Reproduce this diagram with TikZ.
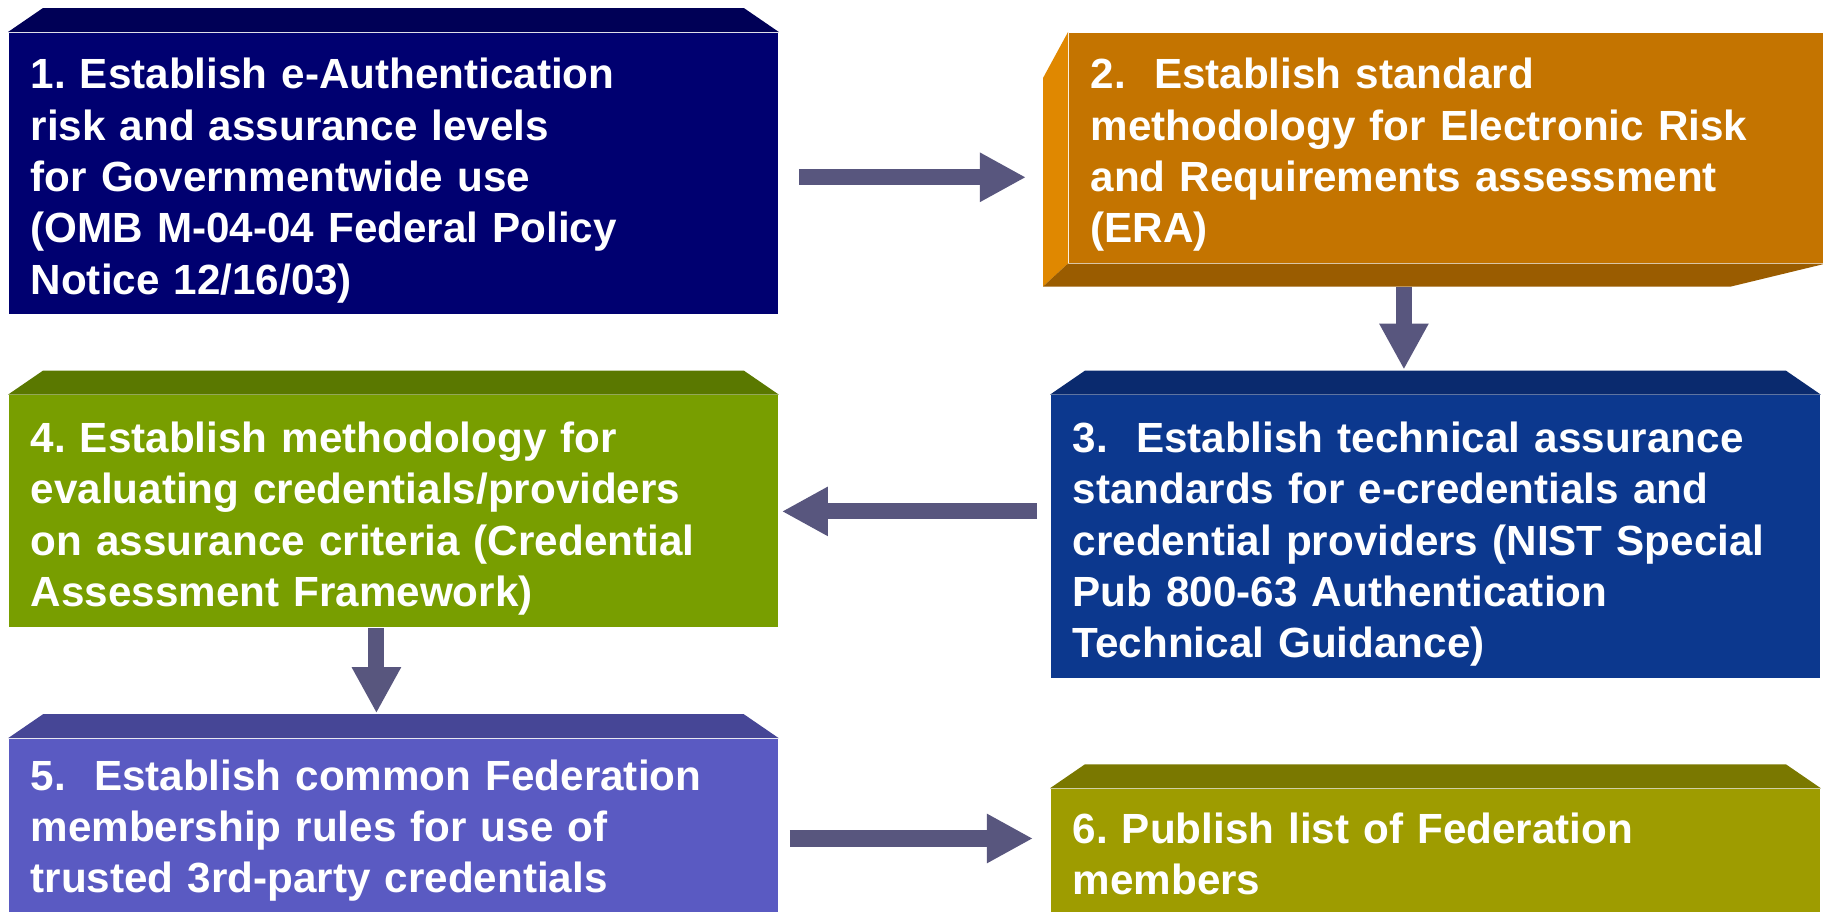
\documentclass[tikz,border=0pt]{standalone}
\usepackage{fontspec}
\setmainfont{Liberation Sans}
\usepackage{tikz}
\usetikzlibrary{positioning, arrows.meta}
\usepackage{xcolor}

\definecolor{navyfront}{RGB}{0,0,112}
\definecolor{navytop}{RGB}{0,0,86}
\definecolor{orangefront}{RGB}{196,116,0}
\definecolor{orangeside}{RGB}{224,136,0}
\definecolor{orangebottom}{RGB}{154,92,0}
\definecolor{bluefront}{RGB}{12,56,142}
\definecolor{bluetop}{RGB}{10,42,110}
\definecolor{greenfront}{RGB}{120,158,0}
\definecolor{greentop}{RGB}{90,120,0}
\definecolor{violetfront}{RGB}{90,90,194}
\definecolor{violettop}{RGB}{70,70,150}
\definecolor{olivefront}{RGB}{158,156,0}
\definecolor{olivetop}{RGB}{122,120,0}
\definecolor{arrowgray}{RGB}{88,86,126}

\begin{document}
\frenchspacing
\begin{tikzpicture}[
    x=0.01cm, y=-0.01cm,
    box/.style={rectangle, text=white, align=left, text width=7.25cm, minimum width=7.69cm, inner xsep=0.22cm, inner ysep=0pt, font=\fontsize{12pt}{14.6pt}\selectfont\bfseries, execute at begin node=\rule{0pt}{0.45cm}},
    arrow/.style={-{Triangle[length=0.46cm, width=0.46cm]}, line width=0.16cm, draw=arrowgray}
]
    \fill[white] (0,0) rectangle (1823,911);
    \useasboundingbox (0,0) rectangle (1823,911);
    \clip (0,0) rectangle (1823,911);

    \node[box, fill=navyfront, minimum height=2.81cm, anchor=north west] (b1) at (8,32) {1. Establish e-Authentication\\risk and assurance levels\\for Governmentwide use\\(OMB M-04-04 Federal Policy\\Notice 12/16/03)};
    \node[box, fill=orangefront, minimum height=2.30cm, text width=7.12cm, minimum width=7.56cm, right=2.89cm of b1.north east, anchor=north west] (b2) {2.\ \ Establish standard\\methodology for Electronic Risk\\and Requirements assessment\\(ERA)};
    \node[box, fill=greenfront, minimum height=2.32cm, below=0.80cm of b1.south west, anchor=north west] (b4) {4. Establish methodology for\\evaluating credentials/providers\\on assurance criteria (Credential\\Assessment Framework)};
    \node[box, fill=bluefront, minimum height=2.83cm, right=2.71cm of b4.north east, anchor=north west] (b3) {3.\ \ Establish technical assurance\\standards for e-credentials and\\credential providers (NIST Special\\Pub 800-63 Authentication\\Technical Guidance)};
    \node[box, fill=violetfront, minimum height=1.81cm, below=1.10cm of b4.south west, anchor=north west] (b5) {5.\ \ Establish common Federation\\membership rules for use of\\trusted 3rd-party credentials\rule[-0.21cm]{0pt}{0pt}};
    \node[box, fill=olivefront, minimum height=1.31cm, below=1.09cm of b3.south west, anchor=north west] (b6) {6. Publish list of Federation\\members\rule[-0.16cm]{0pt}{0pt}};

    % bevels
    \foreach \b/\c in {b1/navytop, b3/bluetop, b4/greentop, b5/violettop, b6/olivetop}
        \fill[\c] (\b.north west) -- ++(35,-24) -- ([shift={(-35,-24)}]\b.north east) -- (\b.north east) -- cycle;
    \fill[orangeside] (b2.north west) -- ++(-25,46) -- ([shift={(-25,23)}]b2.south west) -- (b2.south west) -- cycle;
    \fill[orangebottom] (b2.south west) -- ++(-25,23) -- ([shift={(-95,23)}]b2.south east) -- (b2.south east) -- cycle;

    \draw[arrow, shorten <=0.2cm, shorten >=0.42cm] ([yshift=-0.04cm]b1.east) -- ([yshift=-0.04cm]b1.east -| b2.west);
    \draw[arrow, shorten <=0.23cm, shorten >=0.25cm] ([xshift=-0.43cm]b2.south) -- ([xshift=-0.43cm]b2.south |- b3.north);
    \draw[arrow, shorten <=0.13cm, shorten >=0.03cm] (b3.west |- b4.east) -- (b4.east);
    \draw[arrow, shorten >=0.25cm] ([xshift=-0.17cm]b4.south) -- ([xshift=-0.17cm]b4.south |- b5.north);
    \draw[arrow, shorten <=0.11cm, shorten >=0.17cm] ([yshift=-0.09cm]b5.east) -- ([yshift=-0.09cm]b5.east -| b6.west);
\end{tikzpicture}
\end{document}
